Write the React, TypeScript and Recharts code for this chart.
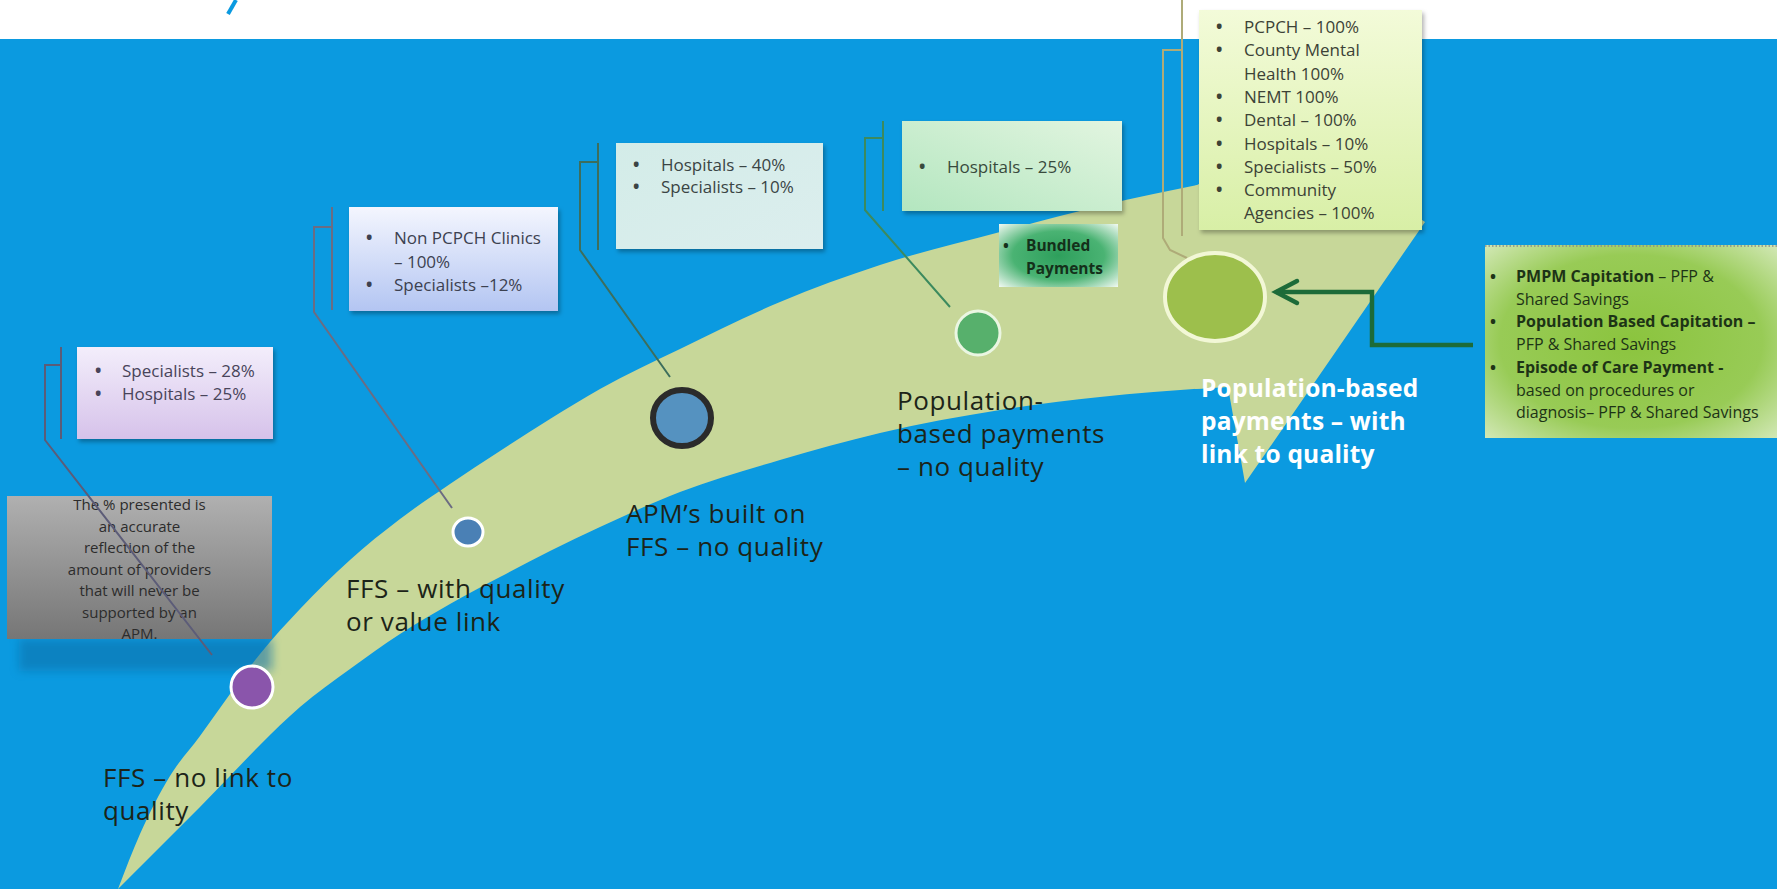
import React from 'react'
import {
  ComposedChart,
  XAxis,
  YAxis,
  Area,
  Line,
  Scatter,
  ReferenceArea,
  ReferenceDot,
} from 'recharts'

const W = 1777
const H = 889
const FONT = "'Open Sans', Lato, sans-serif"

// arrow band: x, upper edge, lower edge (screen units, y grows downwards)
const bodyX = [118, 140, 170, 200, 230, 260, 300, 350, 400, 450, 500, 550, 600, 680, 780, 880, 1000, 1100, 1207]
const bodyTop = [889, 834, 776, 736, 694, 654, 609, 560, 519, 484, 451, 419, 389, 349, 302, 265, 232, 206, 183]
const bodyBottom = [889, 867, 837, 807, 776, 745, 707, 669, 634, 604, 577, 551, 527, 492, 460, 433, 410, 397, 388]

const headX = [1195, 1228, 1245, 1290, 1425]
const headTop = [186, 170, 155, 128, 222]
const headBottom = [389, 387, 483, 418, 222]

// stages along the arrow
const stageDotX = [252, 468, 682, 978, 1215]
const stageDotY = [687, 532, 418, 333, 297]
const stageLabels = [
  ['FFS – no link to', 'quality'],
  ['FFS – with quality', 'or value link'],
  ['APM’s built on', 'FFS – no quality'],
  ['Population-', 'based payments', '– no quality'],
  ['Population-based', 'payments – with', 'link to quality'],
]
const stageLabelX = [103, 346, 626, 897, 1201]
const stageLabelY = [787, 598, 523, 410, 397]

// provider share boxes
const box1Items = ['Specialists – 28%', 'Hospitals – 25%']
const box2Items = ['Non PCPCH Clinics\n– 100%', 'Specialists –12%']
const box3Items = ['Hospitals – 40%', 'Specialists – 10%']
const box4Items = ['Hospitals – 25%']
const box5Items = [
  'PCPCH – 100%',
  'County Mental\nHealth 100%',
  'NEMT 100%',
  'Dental – 100%',
  'Hospitals – 10%',
  'Specialists – 50%',
  'Community\nAgencies – 100%',
]
const bundledItems = ['Bundled\nPayments']
const noteLines = [
  'The % presented is',
  'an accurate',
  'reflection of the',
  'amount of providers',
  'that will never be',
  'supported by an',
  'APM.',
]
const pmpmBold = ['PMPM Capitation', 'Population Based Capitation –', 'Episode of Care Payment -']
const pmpmRest = [' – PFP &\nShared Savings', '\nPFP & Shared Savings', '\nbased on procedures or\ndiagnosis– PFP & Shared Savings']

// leader lines from boxes to stage dots
const leaderX = [
  [61, 45, 45, 212],
  [332, 314, 314, 452],
  [598, 580, 580, 670],
  [883, 865, 865, 950],
  [1182, 1163, 1163, 1170, 1187],
]
const leaderY = [
  [365, 365, 440, 655],
  [227, 227, 312, 508],
  [162, 162, 250, 377],
  [138, 138, 210, 307],
  [50, 50, 238, 250, 258],
]
const tickX = [61, 332, 598, 883, 1182]
const tickTop = [347, 207, 143, 121, 0]
const tickBottom = [439, 310, 250, 211, 236]

// elbow arrow from PMPM box to last stage
const elbowX = [1473, 1372, 1372, 1276]
const elbowY = [345, 345, 292, 292]
const chevronX = [1297, 1276, 1297]
const chevronY = [281, 292, 303]

const LEADER_COLORS = ['#5c5c78', '#6c6c82', '#3d6e5c', '#3c8a5e', '#aeab78']
const DOT_STYLES = [
  { rx: 21, ry: 21, fill: '#8a55ab', stroke: '#ffffff', sw: 3 },
  { rx: 15, ry: 14, fill: '#4a80b5', stroke: '#ffffff', sw: 3 },
  { rx: 29, ry: 28, fill: '#5592c0', stroke: '#2b2b2b', sw: 6 },
  { rx: 22, ry: 22, fill: '#57b06c', stroke: '#eaf6e2', sw: 3 },
  { rx: 50, ry: 44, fill: '#9dbf4c', stroke: '#f2f7d6', sw: 4 },
]

const pts = (xs: number[], ys: number[]) => xs.map((x, i) => ({ x, y: ys[i] }))
const band = (xs: number[], top: number[], bottom: number[]) =>
  xs.map((x, i) => ({ x, band: [top[i], bottom[i]] }))

type TextLine = { bold?: string; text?: string; bullet?: boolean }

const itemsToLines = (items: string[]): TextLine[] =>
  items.flatMap(item => item.split('\n').map((t, j) => ({ text: t, bullet: j === 0 })))

function BulletText({ x, y, lines, dy, bulletDx, textDx, size, color, weight = 400 }: {
  x: number; y: number; lines: TextLine[]; dy: number; bulletDx: number; textDx: number
  size: number; color: string; weight?: number
}) {
  return (
    <g fontFamily={FONT} fontSize={size} fill={color}>
      {lines.map((l, i) => (
        <g key={i}>
          {l.bullet && (
            <text x={x + bulletDx} y={y + i * dy} fontWeight={700}>•</text>
          )}
          <text x={x + textDx} y={y + i * dy} fontWeight={weight}>
            {l.bold && <tspan fontWeight={700}>{l.bold}</tspan>}
            {l.text && <tspan>{l.text}</tspan>}
          </text>
        </g>
      ))}
    </g>
  )
}

function boxShape(grad: string, lines: TextLine[], opts: {
  dy0: number; dy: number; bulletDx: number; textDx: number; size: number; color: string
  weight?: number; shadow?: boolean
}) {
  return (p: any) => (
    <g>
      <rect x={p.x} y={p.y} width={p.width} height={p.height} fill={`url(#${grad})`}
        filter={opts.shadow === false ? undefined : 'url(#boxShadow)'} />
      <BulletText x={p.x} y={p.y + opts.dy0} lines={lines} dy={opts.dy} bulletDx={opts.bulletDx}
        textDx={opts.textDx} size={opts.size} color={opts.color} weight={opts.weight} />
    </g>
  )
}

function NoteShape(p: any) {
  const cx = p.x + p.width / 2
  return (
    <g>
      <rect x={p.x + 12} y={p.y + p.height} width={p.width - 12} height={32} fill="#0a6fa8"
        opacity={0.55} filter="url(#soft)" />
      <rect x={p.x} y={p.y} width={p.width} height={p.height} fill="url(#gNote)" />
      <g fontFamily={FONT} fontSize={15} fill="#2c2c2c" textAnchor="middle">
        {noteLines.map((t, i) => (
          <text key={i} x={cx} y={p.y + 14 + i * 21.5}>{t}</text>
        ))}
      </g>
    </g>
  )
}

function PmpmShape(p: any) {
  const lines: TextLine[] = pmpmBold.flatMap((b, i) => {
    const rest = pmpmRest[i].split('\n')
    return [
      { bold: b, text: rest[0], bullet: true },
      ...rest.slice(1).map(t => ({ text: t })),
    ]
  })
  return (
    <g>
      <rect x={p.x} y={p.y} width={p.width} height={p.height} fill="url(#gPmpm)" />
      <line x1={p.x} x2={p.x + p.width} y1={p.y + 1} y2={p.y + 1} stroke="#8a8a8a"
        strokeWidth={1.5} strokeDasharray="1.5 2" />
      <BulletText x={p.x} y={p.y + 37} lines={lines} dy={22.7} bulletDx={5} textDx={31}
        size={16} color="#1d3316" />
    </g>
  )
}

function StageDot(props: any) {
  const s = DOT_STYLES[props.payload.k]
  return (
    <ellipse cx={props.cx} cy={props.cy} rx={s.rx} ry={s.ry} fill={s.fill} stroke={s.stroke}
      strokeWidth={s.sw} />
  )
}

function stageLabelShape(lines: string[], last: boolean) {
  return (p: any) => (
    <g fontFamily={FONT} fontSize={last ? 24.5 : 26} fontWeight={last ? 700 : 400}
      letterSpacing={last ? 0.2 : 0.6} fill={last ? '#ffffff' : '#1c2418'}>
      {lines.map((t, i) => (
        <text key={i} x={p.cx} y={p.cy + i * 33}>{t}</text>
      ))}
    </g>
  )
}

export default function App() {
  const dots = stageDotX.map((x, i) => ({ x, y: stageDotY[i], k: i }))

  return (
    <div style={{
      position: 'absolute', left: 0, top: 0, width: W, height: H,
      background: 'linear-gradient(#ffffff 0px, #ffffff 39px, #0b9ae0 39px, #0b9ae0 100%)',
    }}>
      <ComposedChart width={W} height={H} margin={{ top: 0, right: 0, bottom: 0, left: 0 }}>
        <defs>
          <filter id="boxShadow" x="-10%" y="-10%" width="130%" height="140%">
            <feDropShadow dx="2" dy="3" stdDeviation="2" floodColor="#000" floodOpacity="0.3" />
          </filter>
          <filter id="soft" x="-20%" y="-50%" width="140%" height="200%">
            <feGaussianBlur stdDeviation="5" />
          </filter>
          <linearGradient id="g1" x1="0" y1="0" x2="0" y2="1">
            <stop offset="0" stopColor="#f3eefb" />
            <stop offset="1" stopColor="#d6c2ea" />
          </linearGradient>
          <linearGradient id="g2" x1="0" y1="0" x2="0" y2="1">
            <stop offset="0" stopColor="#f4f6fe" />
            <stop offset="1" stopColor="#b3c5f2" />
          </linearGradient>
          <linearGradient id="g3" x1="0" y1="0" x2="1" y2="1">
            <stop offset="0" stopColor="#d3ece8" />
            <stop offset="1" stopColor="#dceeee" />
          </linearGradient>
          <linearGradient id="g4" x1="1" y1="0" x2="0" y2="1">
            <stop offset="0" stopColor="#e2f5e0" />
            <stop offset="1" stopColor="#b3e6bf" />
          </linearGradient>
          <linearGradient id="g5" x1="0" y1="0" x2="0" y2="1">
            <stop offset="0" stopColor="#f3fbd9" />
            <stop offset="1" stopColor="#d8efa6" />
          </linearGradient>
          <linearGradient id="gNote" x1="0" y1="0" x2="0" y2="1">
            <stop offset="0" stopColor="#b0b0b0" />
            <stop offset="1" stopColor="#767676" />
          </linearGradient>
          <radialGradient id="gBundled" cx="0.5" cy="0.5" r="0.7">
            <stop offset="0" stopColor="#2e9f5c" />
            <stop offset="0.55" stopColor="#4ab373" />
            <stop offset="1" stopColor="#eef8f0" />
          </radialGradient>
          <radialGradient id="gPmpm" cx="0.5" cy="0.5" r="0.75">
            <stop offset="0" stopColor="#8bc43e" />
            <stop offset="0.6" stopColor="#98cb56" />
            <stop offset="1" stopColor="#dcedc6" />
          </radialGradient>
        </defs>

        <XAxis type="number" dataKey="x" domain={[0, W]} hide allowDataOverflow />
        <YAxis type="number" domain={[0, H]} reversed hide allowDataOverflow />

        {/* arrow band */}
        <Area data={band(bodyX, bodyTop, bodyBottom)} dataKey="band" type="monotoneX"
          fill="#c7d799" fillOpacity={1} stroke="none" activeDot={false}
          isAnimationActive={false} zIndex={20} />
        <Area data={band(headX, headTop, headBottom)} dataKey="band" type="linear"
          fill="#c7d799" fillOpacity={1} stroke="none" activeDot={false}
          isAnimationActive={false} zIndex={20} />

        {/* boxes */}
        <ReferenceArea x1={7} x2={272} y1={496} y2={639} shape={NoteShape} zIndex={30} />
        <ReferenceArea x1={77} x2={273} y1={347} y2={439} zIndex={30}
          shape={boxShape('g1', itemsToLines(box1Items),
            { dy0: 30, dy: 23, bulletDx: 18, textDx: 45, size: 17, color: '#48445a' })} />
        <ReferenceArea x1={349} x2={558} y1={207} y2={311} zIndex={30}
          shape={boxShape('g2', itemsToLines(box2Items),
            { dy0: 37, dy: 23.5, bulletDx: 17, textDx: 45, size: 17, color: '#3c4150' })} />
        <ReferenceArea x1={616} x2={823} y1={143} y2={249} zIndex={30}
          shape={boxShape('g3', itemsToLines(box3Items),
            { dy0: 28, dy: 22, bulletDx: 17, textDx: 45, size: 17, color: '#3a4444' })} />
        <ReferenceArea x1={902} x2={1122} y1={121} y2={211} zIndex={30}
          shape={boxShape('g4', itemsToLines(box4Items),
            { dy0: 52, dy: 22, bulletDx: 17, textDx: 45, size: 17, color: '#384a3c' })} />
        <ReferenceArea x1={999} x2={1118} y1={224} y2={287} zIndex={30}
          shape={boxShape('gBundled', itemsToLines(bundledItems),
            { dy0: 27, dy: 23, bulletDx: 4, textDx: 27, size: 15.5, color: '#14301a', weight: 700, shadow: false })} />
        <ReferenceArea x1={1199} x2={1422} y1={10} y2={230} zIndex={30}
          shape={boxShape('g5', itemsToLines(box5Items),
            { dy0: 23, dy: 23.3, bulletDx: 17, textDx: 45, size: 17, color: '#3c4236' })} />
        <ReferenceArea x1={1485} x2={W} y1={245} y2={438} shape={PmpmShape} zIndex={30} />

        {/* leader lines */}
        {leaderX.map((xs, i) => (
          <Line key={`l${i}`} data={pts(xs, leaderY[i])} dataKey="y" type="linear" dot={false}
            activeDot={false} stroke={LEADER_COLORS[i]} strokeWidth={2}
            isAnimationActive={false} zIndex={40} />
        ))}
        {tickX.map((x, i) => (
          <Line key={`t${i}`} data={pts([x, x], [tickTop[i], tickBottom[i]])} dataKey="y" type="linear"
            dot={false} activeDot={false} stroke={LEADER_COLORS[i]} strokeWidth={2}
            isAnimationActive={false} zIndex={40} />
        ))}
        {/* clipped title glyph */}
        <Line data={pts([228, 236], [14, 0])} dataKey="y" type="linear" dot={false} activeDot={false}
          stroke="#0b9ae0" strokeWidth={4} isAnimationActive={false} zIndex={40} />

        {/* stage dots */}
        <Scatter data={dots} dataKey="y" shape={StageDot} isAnimationActive={false} zIndex={50} />

        {/* stage labels */}
        {stageLabels.map((lines, i) => (
          <ReferenceDot key={`s${i}`} x={stageLabelX[i]} y={stageLabelY[i]} r={1} zIndex={60}
            shape={stageLabelShape(lines, i === stageLabels.length - 1)} />
        ))}

        {/* elbow arrow */}
        <Line data={pts(elbowX, elbowY)} dataKey="y" type="linear" dot={false} activeDot={false}
          stroke="#1d6b39" strokeWidth={4.5} isAnimationActive={false} zIndex={70} />
        <Line data={pts(chevronX, chevronY)} dataKey="y" type="linear" dot={false} activeDot={false}
          stroke="#1d6b39" strokeWidth={4.5} strokeLinecap="round" strokeLinejoin="miter"
          isAnimationActive={false} zIndex={70} />
      </ComposedChart>
    </div>
  )
}
